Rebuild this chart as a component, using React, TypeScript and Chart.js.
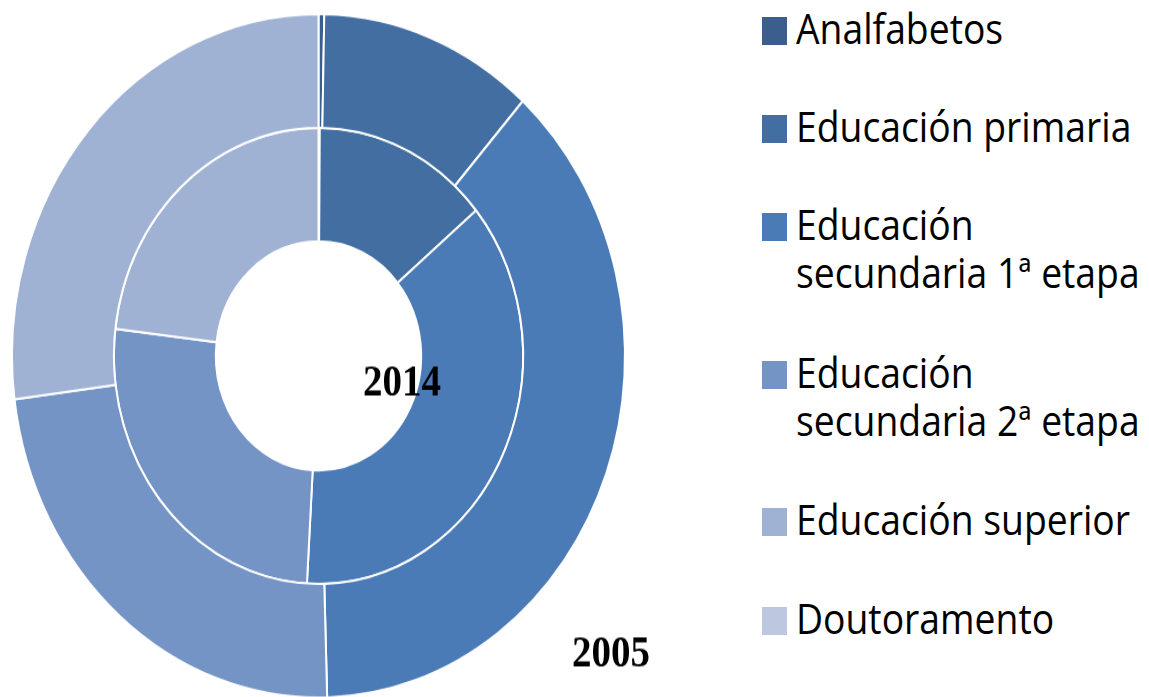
import React, { useEffect, useRef } from "react";
import { Chart, registerables } from "chart.js";

Chart.register(...registerables);

const categories = [
  "Analfabetos",
  "Educación primaria",
  "Educación secundaria 1ª etapa",
  "Educación secundaria 2ª etapa",
  "Educación superior",
  "Doutoramento",
];
const legendLabels = [
  "Analfabetos",
  "Educación primaria",
  "Educación\nsecundaria 1ª etapa",
  "Educación\nsecundaria 2ª etapa",
  "Educación superior",
  "Doutoramento",
];
const colors = ["#3b5e8c", "#436ea1", "#4a7bb6", "#7494c5", "#9fb2d4", "#bdc8e0"];
const values2005 = [0.3, 11.3, 37.9, 23.4, 27.0, 0];
const values2014 = [0.1, 13.9, 36.9, 26.0, 23.1, 0];
const yearLabels = ["2005", "2014"];

const SY = 1.115;

export default function App() {
  const ref = useRef<HTMLCanvasElement | null>(null);

  useEffect(() => {
    if (!ref.current) return;
    const textPlugin = {
      id: "yearText",
      afterDraw(chart: any) {
        const ctx = chart.ctx;
        ctx.save();
        ctx.fillStyle = "#000000";
        ctx.font = 'bold 39px "Liberation Serif", "Times New Roman", serif';
        ctx.textAlign = "center";
        ctx.textBaseline = "alphabetic";
        ctx.fillText(yearLabels[1], 391, 343);
        ctx.fillText(yearLabels[0], 600, 586);
        ctx.restore();
      },
    };
    const chart = new Chart(ref.current, {
      type: "doughnut",
      data: {
        labels: categories,
        datasets: [
          {
            label: yearLabels[0],
            data: values2005,
            backgroundColor: colors,
            borderColor: "#ffffff",
            borderWidth: 2,
          },
          {
            label: yearLabels[1],
            data: values2014,
            backgroundColor: colors,
            borderColor: "#ffffff",
            borderWidth: 2,
          },
        ],
      },
      options: {
        responsive: false,
        animation: false,
        cutout: "33.5%",
        layout: { padding: { left: 0, right: 35, top: 0, bottom: 0 } },
        plugins: {
          legend: { display: false },
          tooltip: { enabled: false },
        },
        events: [],
      },
      plugins: [textPlugin],
    });
    return () => chart.destroy();
  }, []);

  const squareTops = [16.7, 115, 213.3, 360.7, 508.3, 606.6];

  return (
    <div
      style={{
        position: "absolute",
        left: 0,
        top: 0,
        width: 1149,
        height: 697,
        overflow: "hidden",
        background: "#ffffff",
      }}
    >
      <div
        style={{
          position: "absolute",
          left: 11,
          top: 13,
          width: 650,
          height: 615,
          transform: `scaleY(${SY})`,
          transformOrigin: "0 0",
        }}
      >
        <canvas
          ref={ref}
          width={650}
          height={615}
          style={{ width: 650, height: 615, display: "block" }}
        />
      </div>
      {legendLabels.map((lab, i) => (
        <React.Fragment key={i}>
          <div
            style={{
              position: "absolute",
              left: 762,
              top: squareTops[i],
              width: 25,
              height: 28,
              background: colors[i],
            }}
          />
          <div
            style={{
              position: "absolute",
              left: 796,
              top: squareTops[i] - 14,
              whiteSpace: "pre",
              fontFamily: '"Open Sans", sans-serif',
              fontSize: 37.3,
              lineHeight: "43.07px",
              color: "#000000",
              transform: "scaleY(1.126)",
              transformOrigin: "0 0",
            }}
          >
            {lab}
          </div>
        </React.Fragment>
      ))}
    </div>
  );
}
